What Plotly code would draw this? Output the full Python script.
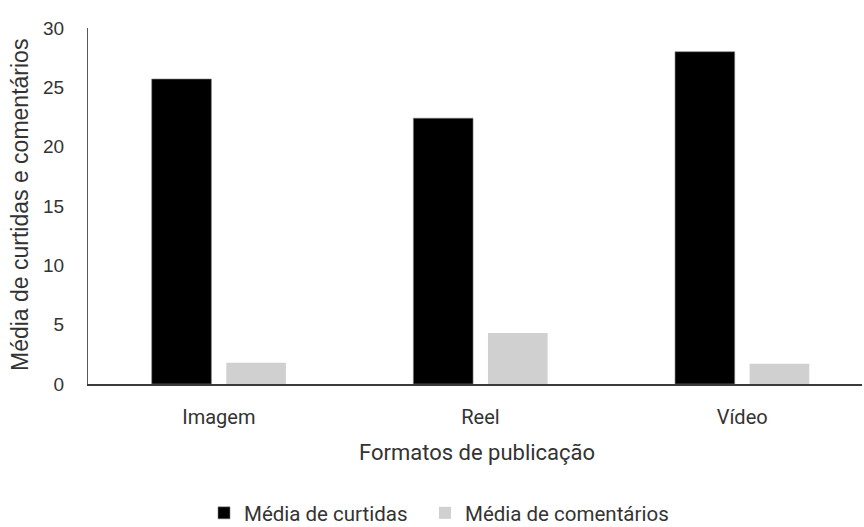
import plotly.graph_objects as go

# Average engagement per publication format
formatos = ["Imagem", "Reel", "Vídeo"]
media_curtidas = [25.7, 22.4, 28.0]
media_comentarios = [1.8, 4.3, 1.7]
y_ticks = [0, 5, 10, 15, 20, 25, 30]

W, H = 864, 527
ML, MR, MT, MB = 88, 2, 28, 143

sans = "Liberation Sans, Arial, sans-serif"
ui = "Roboto, Noto Sans, sans-serif"
text_color = "#333333"

fig = go.Figure()
fig.add_trace(go.Bar(
    x=formatos, y=media_curtidas, name="Média de curtidas",
    marker=dict(color="#000000", line=dict(color="#7f7f7f", width=0.6)),
    legendwidth=176,
))
fig.add_trace(go.Bar(
    x=formatos, y=media_comentarios, name="Média de comentários",
    marker=dict(color="#d0d0d0", line=dict(width=0)),
    legendwidth=215,
))

fig.update_layout(
    width=W, height=H,
    margin=dict(l=ML, r=MR, t=MT, b=MB, pad=0, autoexpand=False),
    paper_bgcolor="white", plot_bgcolor="white",
    barmode="group", bargap=0.43, bargroupgap=0.2,
    showlegend=True,
    legend=dict(
        orientation="h",
        x=(204 - ML) / (W - ML - MR), xanchor="left",
        y=(H - MB - 513) / (H - MT - MB), yanchor="middle",
        font=dict(family=ui, size=20.5, color=text_color),
        itemwidth=30, tracegroupgap=0,
        bgcolor="rgba(0,0,0,0)",
    ),
    xaxis=dict(
        range=[-0.5, 2.458],
        showline=True, linecolor="#3a3a3a", linewidth=2,
        showgrid=False, zeroline=False,
        ticks="outside", ticklen=14, tickcolor="rgba(0,0,0,0)",
        tickfont=dict(family=ui, size=20, color=text_color),
    ),
    yaxis=dict(
        range=[0, 30], tickvals=y_ticks,
        showline=True, linecolor="#595959", linewidth=1.3,
        showgrid=False, zeroline=False,
        ticks="outside", ticklen=19, tickcolor="rgba(0,0,0,0)",
        tickfont=dict(family=sans, size=19, color=text_color),
    ),
    annotations=[
        dict(
            text="Média de curtidas e comentários",
            xref="paper", yref="paper", x=0, y=(H - MB - 205) / (H - MT - MB),
            xanchor="center", yanchor="middle", xshift=20 - ML,
            textangle=-90, showarrow=False,
            font=dict(family=sans, size=23, color=text_color),
        ),
        dict(
            text="Formatos de publicação",
            xref="paper", yref="paper", x=(477 - ML) / (W - ML - MR), y=0,
            xanchor="center", yanchor="middle", yshift=-68,
            showarrow=False,
            font=dict(family=ui, size=22, color=text_color),
        ),
    ],
)

fig.write_html("out.html")
